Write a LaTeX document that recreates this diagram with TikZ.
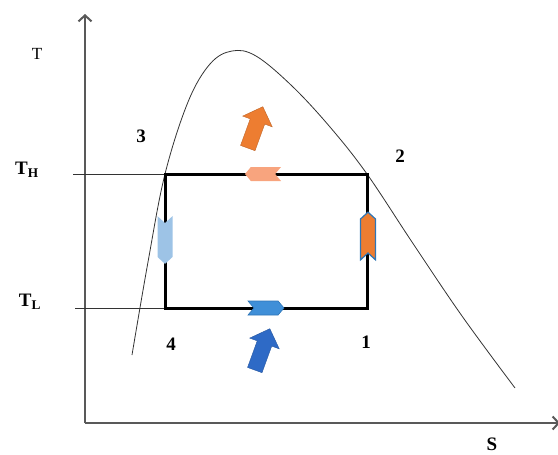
\documentclass[tikz,border=0pt]{standalone}
\usepackage{fontspec}
\setmainfont{Liberation Serif}
\usepackage{tikz}
\usetikzlibrary{arrows.meta,shapes.symbols,shapes.arrows}
\definecolor{hotorange}{HTML}{ED7D31}
\definecolor{paleorange}{HTML}{F8A47E}
\definecolor{coldblue}{HTML}{2E6AC6}
\definecolor{midblue}{HTML}{3F8FD8}
\definecolor{paleblue}{HTML}{9DC3E6}
\definecolor{edgeblue}{HTML}{2E75B6}

\begin{document}
\begin{tikzpicture}[x=1pt,y=-1pt,
  lbl/.style={font=\bfseries\fontsize{19}{21}\selectfont,inner sep=1pt},
  axisline/.style={line width=1.5pt,black!65,-{Straight Barb[length=6pt,width=13pt,line width=2pt]}},
  guide/.style={line width=0.8pt,black!80},
  cycle/.style={line width=3pt,black,line join=miter},
  hflow/.style={signal,inner sep=0pt,minimum width=36pt,minimum height=14pt,signal pointer angle=100},
  vflow/.style={signal,inner sep=0pt,minimum width=15pt,minimum height=34pt,signal pointer angle=95},
  heat/.style={single arrow,inner xsep=0pt,inner ysep=7.5pt,minimum height=44pt,
               single arrow head extend=8pt,rotate=70}
]
  \useasboundingbox (0,0) rectangle (558,455);
  % axes
  \coordinate (origin) at (85,423);
  \coordinate (ttop) at (85,14);
  \coordinate (send) at (560,423);
  \draw[axisline] (origin) -- (ttop);
  \draw[axisline] (origin) -- (send);
  % cycle corners
  \coordinate (p1) at (367,308);
  \coordinate (p2) at (367,174);
  \coordinate (p3) at (165,174);
  \coordinate (p4) at (165,308);
  \coordinate (thstart) at (73,174);
  \coordinate (tlstart) at (75,308);
  \draw[guide] (thstart) -- (p3);
  \draw[guide] (tlstart) -- (p4);
  % saturation dome
  \draw[guide] plot[smooth,tension=0.6] coordinates {(132,355) (148,262) (165,174)
    (188,102) (210,64) (232,51) (256,56) (292,86) (330,127) (367,174) (412,242)
    (462,316) (515,388)};
  \draw[cycle] (p1) -- (p2) -- (p3) -- (p4) -- cycle;
  % direction marks
  \node[hflow,signal to=west,signal from=east,fill=paleorange] (cond) at (263,174) {};
  \node[vflow,signal to=south,signal from=north,fill=paleblue] (expn) at (165,240) {};
  \node[hflow,signal to=east,signal from=west,fill=midblue,draw=edgeblue,line width=0.6pt] (evap) at (266,308) {};
  \node[vflow,signal to=north,signal from=south,fill=hotorange,draw=edgeblue,line width=1.2pt] (comp) at (368,236) {};
  % heat flows
  \node[heat,fill=hotorange,draw=hotorange!80!black,line width=0.4pt] (qout) at (254,131) {};
  \node[heat,fill=coldblue,draw=coldblue!80!black,line width=0.4pt] (qin) at (261,353) {};
  % labels
  \node[lbl,font=\fontsize{17}{19}\selectfont] (tlabel) at (37,54) {T};
  \node[lbl] (slabel) at (492,444) {S};
  \node[lbl] (thlabel) at (27,170) {T\textsubscript{H}};
  \node[lbl] (tllabel) at (30,302) {T\textsubscript{L}};
  \node[lbl] (n3) at (141,136) {3};
  \node[lbl] (n2) at (400,156) {2};
  \node[lbl] (n4) at (171,344) {4};
  \node[lbl] (n1) at (366,342) {1};
\end{tikzpicture}
\end{document}
